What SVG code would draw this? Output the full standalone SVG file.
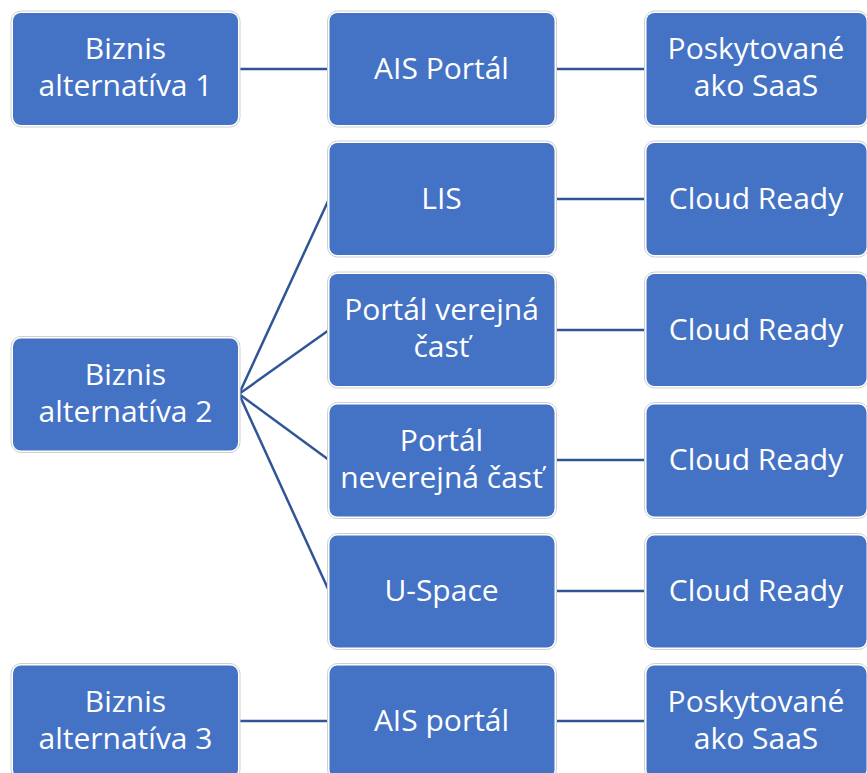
<svg xmlns="http://www.w3.org/2000/svg" width="867" height="773" viewBox="0 0 867 773">
  <style>
    .frame { fill: #ffffff; stroke: #cfcfcf; stroke-width: 1; }
    .box { fill: #4472C4; }
    .lbl { fill: #ffffff; font-family: "Open Sans", "Noto Sans", sans-serif; font-size: 30px; text-anchor: middle; }
    .link { stroke: #2F5597; stroke-width: 2.5; fill: none; }
  </style>
  <defs>
    <!-- framed rounded node body, 226 x 113 -->
    <g id="node">
      <rect class="frame" x="-1.5" y="-1.5" width="229" height="116" rx="10"/>
      <rect class="box" x="0.5" y="0.5" width="225" height="112" rx="8"/>
    </g>
    <g id="nodeWide">
      <rect class="frame" x="-1.5" y="-1.5" width="224" height="116" rx="10"/>
      <rect class="box" x="0.5" y="0.5" width="220" height="112" rx="8"/>
    </g>
  </defs>
  <rect width="867" height="773" fill="#ffffff"/>

  <!-- connectors -->
  <g id="connectors">
    <line class="link" x1="239" y1="69" x2="329" y2="69"/>
    <line class="link" x1="554" y1="69" x2="646" y2="69"/>
    <line class="link" x1="239" y1="394" x2="329" y2="199"/>
    <line class="link" x1="239" y1="394" x2="329" y2="330"/>
    <line class="link" x1="239" y1="394" x2="329" y2="460"/>
    <line class="link" x1="239" y1="394" x2="329" y2="591"/>
    <line class="link" x1="554" y1="199" x2="646" y2="199"/>
    <line class="link" x1="554" y1="330" x2="646" y2="330"/>
    <line class="link" x1="554" y1="460" x2="646" y2="460"/>
    <line class="link" x1="554" y1="591" x2="646" y2="591"/>
    <line class="link" x1="239" y1="721" x2="329" y2="721"/>
    <line class="link" x1="554" y1="721" x2="646" y2="721"/>
  </g>

  <!-- first column -->
  <g id="alt1">
    <use href="#node" x="12.5" y="12.5"/>
    <text class="lbl" x="125.5" y="59">Biznis</text>
    <text class="lbl" x="125.5" y="96">alternatíva 1</text>
  </g>
  <g id="alt2">
    <use href="#node" x="12.5" y="338"/>
    <text class="lbl" x="125.5" y="385">Biznis</text>
    <text class="lbl" x="125.5" y="422">alternatíva 2</text>
  </g>
  <g id="alt3">
    <use href="#node" x="12.5" y="665"/>
    <text class="lbl" x="125.5" y="712">Biznis</text>
    <text class="lbl" x="125.5" y="749">alternatíva 3</text>
  </g>

  <!-- second column -->
  <g id="ais1">
    <use href="#node" x="329" y="12.5"/>
    <text class="lbl" x="441.5" y="79">AIS Portál</text>
  </g>
  <g id="lis">
    <use href="#node" x="329" y="142.5"/>
    <text class="lbl" x="441.5" y="209">LIS</text>
  </g>
  <g id="portal-pub">
    <use href="#node" x="329" y="273.5"/>
    <text class="lbl" x="441.5" y="320">Portál verejná</text>
    <text class="lbl" x="441.5" y="357">časť</text>
  </g>
  <g id="portal-priv">
    <use href="#node" x="329" y="404"/>
    <text class="lbl" x="441.5" y="451">Portál</text>
    <text class="lbl" x="441.5" y="488">neverejná časť</text>
  </g>
  <g id="uspace">
    <use href="#node" x="329" y="535"/>
    <text class="lbl" x="441.5" y="601">U-Space</text>
  </g>
  <g id="ais3">
    <use href="#node" x="329" y="665"/>
    <text class="lbl" x="441.5" y="731">AIS portál</text>
  </g>

  <!-- third column -->
  <g id="saas1">
    <use href="#nodeWide" x="646" y="12.5"/>
    <text class="lbl" x="756" y="59">Poskytované</text>
    <text class="lbl" x="756" y="96">ako SaaS</text>
  </g>
  <g id="cloud-lis">
    <use href="#nodeWide" x="646" y="142.5"/>
    <text class="lbl" x="756" y="209">Cloud Ready</text>
  </g>
  <g id="cloud-pub">
    <use href="#nodeWide" x="646" y="273.5"/>
    <text class="lbl" x="756" y="340">Cloud Ready</text>
  </g>
  <g id="cloud-priv">
    <use href="#nodeWide" x="646" y="404"/>
    <text class="lbl" x="756" y="470">Cloud Ready</text>
  </g>
  <g id="cloud-uspace">
    <use href="#nodeWide" x="646" y="535"/>
    <text class="lbl" x="756" y="601">Cloud Ready</text>
  </g>
  <g id="saas3">
    <use href="#nodeWide" x="646" y="665"/>
    <text class="lbl" x="756" y="712">Poskytované</text>
    <text class="lbl" x="756" y="749">ako SaaS</text>
  </g>
</svg>
